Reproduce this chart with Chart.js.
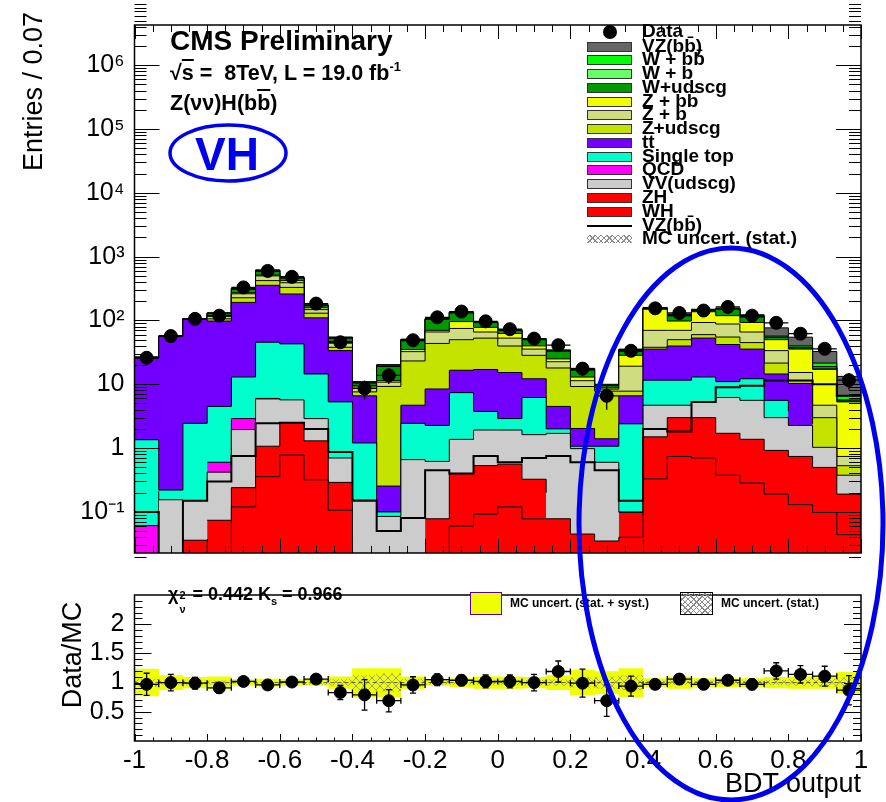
<!DOCTYPE html>
<html lang="en">
<head>
<meta charset="UTF-8">
<title>Z(νν)H(bb) BDT output</title>
<script src="https://cdn.jsdelivr.net/npm/chart.js@4.4.0/dist/chart.umd.min.js"></script>
<style>
    body { margin: 0; background: #fff; font-family: 'Liberation Sans', Arial, sans-serif; }
    #page { position: relative; width: 886px; height: 802px; overflow: hidden; }
    #mainChart { position: absolute; left: 0; top: 0; }
    #ratioChart { position: absolute; left: 0; top: 570px; }
    .t { position: absolute; white-space: nowrap; font-weight: bold; color: #000; line-height: 1; }
    .rot { position: absolute; white-space: nowrap; line-height: 1; color: #000; transform-origin: 0 0; transform: rotate(-90deg); }
    .box { position: absolute; box-sizing: border-box; }
    .hatch { background:
        repeating-linear-gradient(45deg, transparent 0 3px, #8a8a8a 3px 4px),
        repeating-linear-gradient(-45deg, transparent 0 3px, #8a8a8a 3px 4px); }
    .ov { text-decoration: overline; }
    sup { font-size: 60%; vertical-align: 0.7em; line-height: 0; }
    #ellipses { position: absolute; left: 0; top: 0; pointer-events: none; }
</style>
</head>
<body>
<div id="page">
    <canvas id="mainChart" width="886" height="578"></canvas>
    <canvas id="ratioChart" width="886" height="232"></canvas>

    <!-- axis titles -->
    <div class="rot" style="left:20px; top:312px; width:300px; text-align:right; font-size:27px;">Entries / 0.07</div>
    <div class="rot" style="left:59px; top:805px; width:300px; text-align:center; font-size:27px;">Data/MC</div>
    <div class="t" style="left:561px; top:770px; width:300px; text-align:right; font-weight:normal; font-size:27px;">BDT output</div>

    <!-- labels in the main panel -->
    <div class="t" style="left:170px; top:27px; font-size:28px;">CMS Preliminary</div>
    <div class="t" style="left:170px; top:63px; font-size:21.5px;">√<span class="ov">s</span> =&nbsp; 8TeV, L = 19.0 fb<sup>-1</sup></div>
    <div class="t" style="left:170px; top:93px; font-size:21.5px;">Z(νν)H(b<span class="ov">b</span>)</div>
    <div class="t" style="left:195px; top:131px; font-size:46px; color:#0000f0;">VH</div>

    <div id="legend"></div>

    <!-- ratio panel labels -->
    <div class="t" style="left:168px; top:585px; font-size:18px;">χ<span style="display:inline-block; position:relative; width:9px; height:1px;"><span style="position:absolute; left:1px; top:-9px; font-size:11px;">2</span><span style="position:absolute; left:1px; top:5px; font-size:11px;">ν</span></span> = 0.442 K<span style="font-size:11px; position:relative; top:5px;">s</span> = 0.966</div>
    <div class="box" style="left:470px; top:592px; width:32px; height:23px; background:#eeff00; border:1px solid #5a00a0;"></div>
    <div class="t" style="left:510px; top:597px; font-size:12px;">MC uncert. (stat. + syst.)</div>
    <div class="box hatch" style="left:680px; top:592px; width:33px; height:23px; border:1px solid #000;"></div>
    <div class="t" style="left:721px; top:597px; font-size:12px;">MC uncert. (stat.)</div>

    <svg id="ellipses" width="886" height="802">
        <ellipse cx="228" cy="153" rx="58" ry="28" fill="none" stroke="#0000f0" stroke-width="3.5"/>
        <ellipse cx="731" cy="524" rx="152" ry="276" fill="none" stroke="#0000f0" stroke-width="5"/>
    </svg>
</div>

<script>
    // binning of the BDT output
    const nBins = 30;
    const xLow = -1, xHigh = 1;

    // MC expectation per bin, stacked from the bottom up
    const wh        = [0, 0, 0.036, 0.02, 0.12, 0.356, 0.78, 0.318, 0.106, 0.03, 0, 0, 0.02, 0.06, 0.092, 0.12, 0.078, 0.078, 0.045, 0.035, 0.04, 0.33, 0.74, 0.70, 0.376, 0.284, 0.19, 0.13, 0.098, 0.044];
    const zh        = [0, 0, 0, 0.054, 0.12, 0.714, 1.65, 0.98, 0.184, 0.044, 0, 0, 0.058, 0.34, 0.44, 0.44, 0.247, 0.122, 0, 0, 0.058, 1.17, 2.26, 2.3, 1.33, 1.09, 0.73, 0.61, 0.40, 0.146];
    const vvUdscg   = [0, 0.155, 0.114, 0.346, 1.71, 4.83, 3.27, 1.6, 0.41, 0.079, 0.085, 0.66, 0.54, 0.97, 1.39, 1.36, 1.3, 1.5, 0.935, 0.565, 0.002, 3.2, 1.7, 2.3, 4.5, 4.23, 2.08, 1.53, 0.53, 0.186];
    const qcd       = [0.061, 0.055, 0, 0.18, 0.95, 0.1, 0.1, 0, 0, 0, 0, 0, 0, 0, 0, 0, 0, 0, 0, 0, 0, 0, 0, 0, 0, 0, 0, 0, 0, 0];
    const singleTop = [1.29, 0.01, 2.3, 3.9, 10.1, 39.6, 37.2, 11.6, 4.6, 1.05, 0.015, 1.79, 1.65, 6.03, 1.84, 0.98, 4.58, 0.3, 0.09, 0.47, 2.3, 6.9, 6.9, 7.7, 4.8, 6.6, 2.6, 1.49, 0, 0];
    const ttbar     = [24.15, 55.8, 101.5, 93.5, 179, 310, 217, 95.5, 28.4, 5.4, 0.154, 2.25, 6.18, 9.2, 13.3, 12.4, 6, 2.5, 0.96, 0.33, 4.2, 24, 28.2, 40, 31, 23.4, 8.9, 6.54, 1.37, 0];
    const zUdscg    = [0.3, 0.3, 1, 8, 35, 66, 70, 20, 4.3, 1, 9.0, 18.5, 35.2, 33.4, 35.8, 24.5, 16.2, 13.5, 7.2, 6.4, 1.2, 2.4, 10.2, 7, 13, 9.4, 7, 1.1, 0.6, 0.154];
    const zB        = [0.2, 0.2, 0.8, 10, 35, 78, 60, 18, 6, 1.5, 1.55, 9.3, 22.4, 25, 13.1, 13.1, 7.2, 4.6, 2.15, 0.6, 11.4, 32, 20, 33, 33, 21, 12.2, 3.9, 1.7, 0.21];
    const zBB       = [0.1, 0.1, 0.3, 4, 10, 15, 30, 10, 3, 0.5, 0.6, 2.5, 4, 21, 12, 9.6, 4.4, 2.4, 1.6, 0.4, 9.2, 80, 28, 44, 31, 27, 16.3, 20.3, 12.4, 4.56];
    const wUdscg    = [0.3, 0.3, 0.8, 8, 36, 75, 40, 12, 5.5, 0.8, 7.6, 13, 34, 35, 14.6, 7, 10, 8, 3.7, 0.7, 4.6, 3, 20, 8, 31, 20, 4, 1.4, 0.9, 0.2];
    const wB        = [0.1, 0.05, 0.1, 1, 4, 10, 8, 2, 0.8, 0.2, 0.4, 1, 1, 2, 0.9, 0.8, 0.6, 0.5, 0.3, 0.1, 1, 2, 2, 2, 2, 2, 1, 1, 1, 0.2];
    const wBB       = [0.1, 0.05, 0.1, 2, 6, 15, 10, 3, 1, 0.2, 0.6, 1.5, 1.5, 2.5, 1, 1, 0.8, 0.7, 0.5, 0.2, 1, 2, 2, 1.5, 2, 2, 2, 2, 2.5, 0.9];
    const vzBB      = [0.1, 0.05, 0.1, 1, 2, 5, 5, 1, 0.7, 0.2, 0.3, 0.5, 0.5, 0.5, 0.5, 0.7, 0.6, 0.3, 0.3, 0.2, 0.6, 3, 3, 1.5, 3, 6, 19.6, 14.7, 11.1, 6.7];

    // VZ(bb) drawn again as an unstacked line
    const vzLine    = [0.1, 0.01, 0.15, 0.3, 0.75, 2.45, 2.5, 2.0, 0.87, 0.15, 0.05, 0.08, 0.45, 0.4, 0.75, 0.6, 0.7, 0.75, 0.6, 0.45, 0.15, 2.0, 1.82, 5.3, 9, 9.5, 11.5, 11.5, 10, 6.6];

    // data
    const dataCounts = [26, 57, 106, 119, 330, 598, 483, 184, 45.6, 8.6, 13.8, 49, 112, 138, 97, 73, 52, 41, 17.6, 6.6, 33.5, 155, 131, 143, 163, 119, 92, 62, 36, 11.6];
    const dataErr    = [5.1, 7.5, 10.3, 10.9, 18.2, 24.5, 22, 13.6, 6.8, 2.9, 3.7, 7, 10.6, 11.7, 9.8, 8.5, 7.2, 6.4, 4.2, 2.6, 5.8, 12.4, 11.4, 12, 12.8, 10.9, 9.6, 7.9, 6, 3.4];

    // ratio panel
    const ratioVals = [0.97, 1.0, 0.99, 0.91, 1.02, 0.96, 1.01, 1.06, 0.83, 0.79, 0.69, 0.96, 1.05, 1.04, 1.02, 1.02, 1.0, 1.19, 0.99, 0.69, 0.94, 0.97, 1.06, 0.97, 1.04, 0.97, 1.2, 1.14, 1.11, 0.87];
    const ratioErr  = [0.19, 0.14, 0.1, 0.09, 0.06, 0.04, 0.05, 0.07, 0.12, 0.26, 0.19, 0.14, 0.1, 0.09, 0.11, 0.11, 0.14, 0.18, 0.24, 0.27, 0.17, 0.08, 0.09, 0.08, 0.08, 0.09, 0.14, 0.15, 0.17, 0.25];
    const systBand  = [0.23, 0.12, 0.09, 0.1, 0.05, 0.06, 0.05, 0.05, 0.1, 0.24, 0.24, 0.1, 0.05, 0.07, 0.1, 0.1, 0.09, 0.12, 0.21, 0.19, 0.24, 0.07, 0.1, 0.07, 0.07, 0.07, 0.09, 0.1, 0.1, 0.18];
    const statBand  = [0.06, 0.03, 0.03, 0.03, 0.02, 0.02, 0.02, 0.03, 0.05, 0.12, 0.15, 0.06, 0.03, 0.03, 0.03, 0.04, 0.04, 0.05, 0.08, 0.1, 0.12, 0.03, 0.03, 0.03, 0.03, 0.03, 0.04, 0.05, 0.06, 0.08];

    // axis ticks
    const yTickVals = [0.1, 1, 10, 100, 1e3, 1e4, 1e5, 1e6];
    const yTickLabels = ['10⁻¹', '1', '10', '10²', '10³', '10⁴', '10⁵', '10⁶'];
    const xTickVals = [-1, -0.8, -0.6, -0.4, -0.2, 0, 0.2, 0.4, 0.6, 0.8, 1];
    const xTickLabels = ['-1', '-0.8', '-0.6', '-0.4', '-0.2', '0', '0.2', '0.4', '0.6', '0.8', '1'];
    const ratioTickVals = [0.5, 1, 1.5, 2];
    const ratioTickLabels = ['0.5', '1', '1.5', '2'];

    const stackLayers = [
        { label: 'WH', values: wh, color: '#ff0000' },
        { label: 'ZH', values: zh, color: '#ff0000' },
        { label: 'VV(udscg)', values: vvUdscg, color: '#cccccc' },
        { label: 'QCD', values: qcd, color: '#ff00ff' },
        { label: 'Single top', values: singleTop, color: '#00ffcc' },
        { label: 'tt', values: ttbar, color: '#7300ff' },
        { label: 'Z+udscg', values: zUdscg, color: '#c4e400' },
        { label: 'Z + b', values: zB, color: '#cfdc80' },
        { label: 'Z + bb', values: zBB, color: '#f2ff00' },
        { label: 'W+udscg', values: wUdscg, color: '#009900' },
        { label: 'W + b', values: wB, color: '#66ff66' },
        { label: 'W + bb', values: wBB, color: '#00ff00' },
        { label: 'VZ(bb)', values: vzBB, color: '#666666' }
    ];

    const binW = (xHigh - xLow) / nBins;
    const edges = Array.from({ length: nBins + 1 }, (_, i) => xLow + i * binW);
    const centers = edges.slice(0, nBins).map(e => e + binW / 2);
    const FONT = "'Liberation Sans', Arial, sans-serif";

    // histogram as a stepped line: one point per left edge, plus the right end
    function stepData(vals) {
        return edges.map((x, i) => ({ x: x, y: vals[Math.min(i, nBins - 1)] }));
    }

    // frame and inward ticks, ROOT style
    function makeFrame(cfg) {
        return {
            id: 'rootFrame',
            afterDraw(chart) {
                const { ctx, chartArea: a, scales: { x, y } } = chart;
                ctx.save();
                ctx.strokeStyle = '#000';
                ctx.lineWidth = 1;
                ctx.beginPath();
                const yTick = (v, len) => {
                    const py = Math.round(y.getPixelForValue(v)) + 0.5;
                    ctx.moveTo(a.left, py); ctx.lineTo(a.left + len, py);
                    ctx.moveTo(a.right, py); ctx.lineTo(a.right - len, py);
                };
                const xTick = (v, len) => {
                    const px = Math.round(x.getPixelForValue(v)) + 0.5;
                    if (cfg.xBottom) { ctx.moveTo(px, a.bottom); ctx.lineTo(px, a.bottom - len); }
                    if (cfg.xTop) { ctx.moveTo(px, a.top); ctx.lineTo(px, a.top + len); }
                };
                cfg.yMinor.forEach(v => yTick(v, cfg.yMinorLen));
                cfg.yMajor.forEach(v => yTick(v, cfg.yMajorLen));
                for (let v = xLow; v <= xHigh + 1e-9; v += 0.05) xTick(v, cfg.xMinorLen);
                xTickVals.forEach(v => xTick(v, cfg.xMajorLen));
                ctx.stroke();
                ctx.lineWidth = 1.5;
                ctx.strokeRect(a.left, a.top, a.right - a.left, a.bottom - a.top);
                ctx.restore();
            }
        };
    }

    // bin-width and vertical error bars for the data points
    const errorBars = {
        id: 'errorBars',
        afterDatasetsDraw(chart) {
            const { ctx, chartArea: a, scales: { x, y } } = chart;
            chart.data.datasets.forEach(ds => {
                if (!ds.errY) return;
                ctx.save();
                ctx.beginPath();
                ctx.rect(a.left, a.top, a.right - a.left, a.bottom - a.top);
                ctx.clip();
                ctx.strokeStyle = '#000';
                ctx.lineWidth = 1.3;
                ctx.beginPath();
                ds.data.forEach((p, i) => {
                    const px = x.getPixelForValue(p.x), py = y.getPixelForValue(p.y);
                    const x0 = x.getPixelForValue(p.x - binW / 2), x1 = x.getPixelForValue(p.x + binW / 2);
                    const y0 = y.getPixelForValue(Math.max(p.y - ds.errY[i], 1e-3)), y1 = y.getPixelForValue(p.y + ds.errY[i]);
                    ctx.moveTo(x0, py); ctx.lineTo(x1, py);
                    ctx.moveTo(px, y0); ctx.lineTo(px, y1);
                    if (ds.cap) {
                        ctx.moveTo(px - ds.cap, y0); ctx.lineTo(px + ds.cap, y0);
                        ctx.moveTo(px - ds.cap, y1); ctx.lineTo(px + ds.cap, y1);
                        ctx.moveTo(x0, py - ds.cap); ctx.lineTo(x0, py + ds.cap);
                        ctx.moveTo(x1, py - ds.cap); ctx.lineTo(x1, py + ds.cap);
                    }
                });
                ctx.stroke();
                ctx.restore();
            });
        }
    };

    // ---- main panel ----
    // every layer is filled down to the axis; lower layers are drawn later and cover the rest
    const mainDatasets = [
        {
            type: 'scatter', label: 'Data', stack: 'data',
            data: centers.map((x, i) => ({ x: x, y: dataCounts[i] })),
            pointRadius: 6.5, backgroundColor: '#000', borderColor: '#000',
            errY: dataErr, cap: 0
        },
        {
            type: 'line', label: 'VZ(bb) line', stack: 'vzline',
            data: stepData(vzLine), stepped: true,
            borderColor: '#000', borderWidth: 2, pointRadius: 0, fill: false
        }
    ].concat(stackLayers.map(l => ({
        type: 'line', label: l.label, stack: 'mc',
        data: stepData(l.values), stepped: true,
        borderColor: '#000', borderWidth: 1, backgroundColor: l.color,
        pointRadius: 0, fill: 'start'
    })));

    const logMinor = [];
    for (let e = -2; e <= 6; e++) {
        for (let m = 2; m <= 9; m++) logMinor.push(m * Math.pow(10, e));
    }

    new Chart(document.getElementById('mainChart'), {
        type: 'line',
        data: { datasets: mainDatasets },
        options: {
            responsive: false,
            animation: false,
            events: [],
            layout: { padding: { left: 0, right: 25, top: 8, bottom: 5 } },
            plugins: { legend: { display: false }, tooltip: { enabled: false } },
            scales: {
                x: { type: 'linear', min: xLow, max: xHigh, display: false },
                y: {
                    type: 'logarithmic', min: 0.0227, max: 4.27e6, stacked: true,
                    grid: { display: false, drawTicks: false },
                    border: { display: false },
                    afterFit: s => { s.width = 134.5; },
                    afterBuildTicks: s => { s.ticks = yTickVals.map(v => ({ value: v })); },
                    ticks: {
                        autoSkip: false, padding: 10, color: '#000',
                        font: { family: FONT, size: 25 },
                        callback: (v, i) => yTickLabels[i]
                    }
                }
            }
        },
        plugins: [errorBars, makeFrame({
            yMajor: yTickVals, yMinor: logMinor, yMajorLen: 25, yMinorLen: 12,
            xMajorLen: 14, xMinorLen: 7, xTop: true, xBottom: true
        })]
    });

    // ---- ratio panel ----
    const ratioCanvas = document.getElementById('ratioChart');
    const hatchTile = document.createElement('canvas');
    hatchTile.width = 8; hatchTile.height = 8;
    const hg = hatchTile.getContext('2d');
    hg.strokeStyle = '#8a8a8a'; hg.lineWidth = 0.8;
    hg.beginPath(); hg.moveTo(0, 0); hg.lineTo(8, 8); hg.moveTo(8, 0); hg.lineTo(0, 8); hg.stroke();
    const hatch = ratioCanvas.getContext('2d').createPattern(hatchTile, 'repeat');

    const ratioMinor = [];
    for (let k = 1; k < 25; k++) ratioMinor.push(k / 10);

    new Chart(ratioCanvas, {
        type: 'line',
        data: {
            datasets: [
                {
                    type: 'scatter', label: 'Data/MC',
                    data: centers.map((x, i) => ({ x: x, y: ratioVals[i] })),
                    pointRadius: 6, backgroundColor: '#000', borderColor: '#000',
                    errY: ratioErr, cap: 3
                },
                {
                    type: 'line', data: [{ x: xLow, y: 1 }, { x: xHigh, y: 1 }],
                    borderColor: '#555', borderWidth: 1, borderDash: [4, 3], pointRadius: 0, fill: false
                },
                {
                    type: 'bar', label: 'MC uncert. (stat.)', grouped: false,
                    data: centers.map((x, i) => ({ x: x, y: [1 - statBand[i], 1 + statBand[i]] })),
                    backgroundColor: hatch, borderWidth: 0, barPercentage: 1, categoryPercentage: 1
                },
                {
                    type: 'bar', label: 'MC uncert. (stat. + syst.)', grouped: false,
                    data: centers.map((x, i) => ({ x: x, y: [1 - systBand[i], 1 + systBand[i]] })),
                    backgroundColor: '#eeff00', borderWidth: 0, barPercentage: 1, categoryPercentage: 1
                }
            ]
        },
        options: {
            responsive: false,
            animation: false,
            events: [],
            layout: { padding: { left: 0, right: 25, top: 3, bottom: 0 } },
            plugins: { legend: { display: false }, tooltip: { enabled: false } },
            scales: {
                x: {
                    type: 'linear', min: xLow, max: xHigh, offset: false,
                    grid: { display: false, drawTicks: false },
                    border: { display: false },
                    afterFit: s => { s.height = 61; },
                    afterBuildTicks: s => { s.ticks = xTickVals.map(v => ({ value: v })); },
                    ticks: {
                        autoSkip: false, maxRotation: 0, padding: 4, color: '#000',
                        font: { family: FONT, size: 26 },
                        callback: (v, i) => xTickLabels[i]
                    }
                },
                y: {
                    type: 'linear', min: 0, max: 2.5,
                    grid: { display: false, drawTicks: false },
                    border: { display: false },
                    afterFit: s => { s.width = 134.5; },
                    afterBuildTicks: s => { s.ticks = ratioTickVals.map(v => ({ value: v })); },
                    ticks: {
                        autoSkip: false, padding: 10, color: '#000',
                        font: { family: FONT, size: 25 },
                        callback: (v, i) => ratioTickLabels[i]
                    }
                }
            }
        },
        plugins: [errorBars, makeFrame({
            yMajor: ratioTickVals, yMinor: ratioMinor, yMajorLen: 17, yMinorLen: 8,
            xMajorLen: 7, xMinorLen: 3.5, xTop: false, xBottom: true
        })]
    });

    // ---- legend of the main panel ----
    const legendRows = [
        ['Data', 'dot'], ['VZ(bb\u0304)', '#666666'], ['W + bb\u0304', '#00ff00'], ['W + b', '#66ff66'],
        ['W+udscg', '#009900'], ['Z + bb\u0304', '#f2ff00'], ['Z + b', '#cfdc80'], ['Z+udscg', '#c4e400'],
        ['tt\u0304', '#7300ff'], ['Single top', '#00ffcc'], ['QCD', '#ff00ff'], ['VV(udscg)', '#cccccc'],
        ['ZH', '#ff0000'], ['WH', '#ff0000'], ['VZ(bb\u0304)', 'line'], ['MC uncert. (stat.)', 'hatch']
    ];
    const legendY = [32, 47, 60, 74, 88, 102, 115, 129, 143, 157, 170, 184, 198, 212, 226, 239];
    const legend = document.getElementById('legend');
    legendRows.forEach(([label, kind], i) => {
        const cy = legendY[i];
        const mark = document.createElement('div');
        mark.className = 'box';
        if (kind === 'dot') {
            mark.style.cssText = `left:603px; top:${cy - 7}px; width:14px; height:14px; border-radius:50%; background:#000;`;
        } else if (kind === 'line') {
            mark.style.cssText = `left:587px; top:${cy - 1}px; width:45px; height:2px; background:#000;`;
        } else if (kind === 'hatch') {
            mark.className = 'box hatch';
            mark.style.cssText += `left:587px; top:${cy - 4}px; width:45px; height:8px;`;
        } else {
            mark.style.cssText = `left:587px; top:${cy - 5}px; width:45px; height:10px; background:${kind}; border:1px solid #333;`;
        }
        legend.appendChild(mark);
        const txt = document.createElement('div');
        txt.className = 't';
        txt.style.cssText = `left:642px; top:${cy + 5 - 16}px; font-size:19px;`;
        txt.textContent = label;
        legend.appendChild(txt);
    });
</script>
</body>
</html>
